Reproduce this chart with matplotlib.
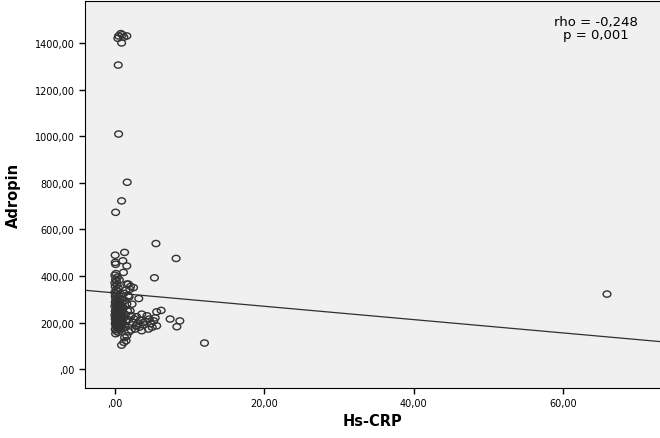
"""Adropin vs Hs-CRP scatter with linear fit line (SPSS-style recreation)."""

import matplotlib
matplotlib.use("Agg")
import matplotlib.pyplot as plt
from matplotlib.markers import MarkerStyle
from matplotlib.transforms import Affine2D

# dense column of low Hs-CRP values
col_x = [0.10, 0.45, 0.20, 0.70, 0.05, 0.55, 0.30, 0.85, 0.15, 0.60,
         0.35, 0.80, 0.05, 0.50, 0.25, 0.75, 0.10, 0.40, 0.65, 0.20,
         0.55, 0.05, 0.30, 0.85, 0.15, 0.45, 0.70, 0.00, 0.35, 0.60,
         0.10, 0.50, 0.25, 0.80, 0.05, 0.40, 0.65, 0.20, 0.55, 0.30,
         0.75, 0.00, 0.45, 0.15, 0.60, 0.30, 0.05, 0.50, 0.20, 0.70,
         0.10, 0.40, 0.05, 0.55, 0.25, 0.00, 0.35, 0.15, 0.45, 0.05,
         0.30, 0.00, 0.20, 0.10, 0.35, 0.00, 0.15, 0.05, 0.10, 0.04,
         0.90, 0.95, 0.90, 1.00, 0.85, 0.95, 0.90, 0.80, 1.00, 0.90]
col_y = [152, 158, 163, 168, 171, 175, 178, 181, 184, 187,
         190, 192, 195, 197, 200, 202, 204, 207, 209, 212,
         214, 216, 219, 221, 224, 226, 229, 231, 234, 236,
         239, 241, 244, 246, 249, 252, 255, 258, 261, 264,
         267, 270, 273, 276, 279, 283, 287, 291, 295, 299,
         303, 308, 313, 318, 323, 329, 335, 341, 348, 355,
         362, 370, 378, 386, 395, 403, 410, 458, 450, 489,
         185, 198, 210, 222, 233, 245, 258, 270, 285, 300]

# spread between 1 and 3
mid_x = [1.1, 1.3, 1.5, 1.2, 1.4, 1.7, 1.1, 1.6, 1.3, 1.9,
         1.2, 1.5, 2.1, 1.8, 2.5, 2.0, 2.3, 2.05, 2.2, 2.6,
         2.4, 2.8, 2.7, 1.9, 2.2, 3.0, 3.2, 3.6, 3.4, 1.4,
         1.0, 1.8, 2.9, 1.6, 1.5, 0.9, 1.3, 1.2, 1.8, 1.6,
         1.3, 1.07, 1.6, 1.15, 0.6]
mid_y = [175, 190, 205, 220, 235, 250, 265, 280, 295, 310,
         325, 340, 355, 365, 350, 343, 279, 250, 230, 215,
         200, 185, 172, 160, 168, 195, 303, 236, 210, 180,
         198, 212, 225, 143, 122, 103, 135, 115, 315, 365,
         501, 465, 443, 415, 383]

# tail towards 3-9
tail_x = [3.6, 4.5, 5.6, 5.2, 4.3, 5.6, 6.2, 3.9, 4.1, 4.8,
          5.0, 4.6, 3.3, 5.4, 3.8, 7.4, 8.7, 8.3, 12.0]
tail_y = [165, 172, 186, 207, 229, 246, 252, 190, 205, 195,
          180, 215, 180, 220, 200, 215, 207, 182, 112]

# isolated high / far values
out_x = [0.5, 0.8, 1.2, 0.4, 1.0, 1.6, 0.9, 0.45, 0.5, 1.65,
         0.9, 0.1, 5.5, 8.2, 5.3, 65.9]
out_y = [1430, 1440, 1425, 1420, 1435, 1430, 1400, 1305, 1009, 802,
         722, 673, 539, 475, 392, 322]

hs_crp = col_x + mid_x + tail_x + out_x
adropin = col_y + mid_y + tail_y + out_y

# fit line
fit_intercept = 327.0
fit_slope = -2.86

x_ticks = [0, 20, 40, 60]
y_ticks = [0, 200, 400, 600, 800, 1000, 1200, 1400]


def spss_fmt(v):
    s = f"{v:.2f}".replace(".", ",")
    return s[1:] if s.startswith("0,") else s


fig = plt.figure(figsize=(6.6, 4.39), dpi=100)
ax = fig.add_axes([85 / 660, 50 / 439, 1 - 85 / 660, 387 / 439])
ax.set_facecolor("#f0f0f0")

marker = MarkerStyle("o", transform=Affine2D().scale(1.25, 1.0))
ax.scatter(hs_crp, adropin, marker=marker, s=20, facecolors="none",
           edgecolors="#333333", linewidths=1.0, zorder=3)

ax.set_xlim(-4, 73)
ax.set_ylim(-81, 1580)
ax.plot([-4, 73], [fit_intercept - 4 * fit_slope, fit_intercept + 73 * fit_slope],
        color="#303030", lw=0.9, zorder=2)

ax.set_xticks(x_ticks)
ax.set_xticklabels([spss_fmt(v) for v in x_ticks])
ax.set_yticks(y_ticks)
ax.set_yticklabels([spss_fmt(v) for v in y_ticks])
ax.tick_params(labelsize=7, length=4, width=1, color="black")
for side in ("left", "bottom", "top"):
    ax.spines[side].set_color("black")
ax.spines["right"].set_visible(False)

ax.set_xlabel("Hs-CRP", fontsize=10.5, fontweight="bold", labelpad=3)
ax.set_ylabel("Adropin", fontsize=10.5, fontweight="bold", labelpad=10)

ax.text(0.889, 0.963, "rho = -0,248\np = 0,001", transform=ax.transAxes,
        ha="center", va="top", fontsize=9.5, linespacing=0.95)

fig.savefig("out.png", dpi=100)
